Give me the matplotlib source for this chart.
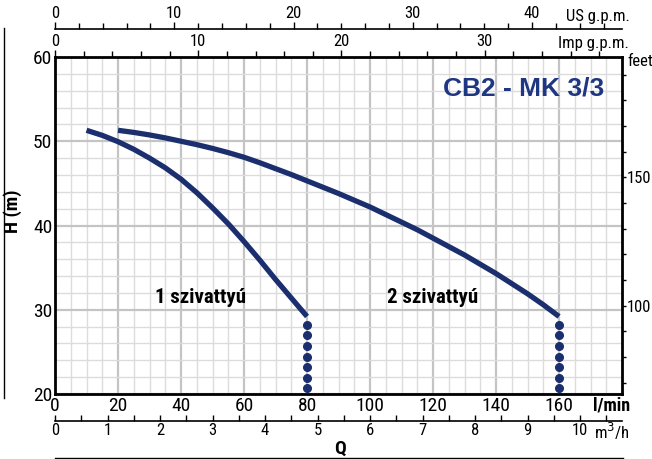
import matplotlib
matplotlib.use('Agg')
import matplotlib.pyplot as plt
from matplotlib import font_manager as fm
from matplotlib.lines import Line2D

# pick a narrow sans if one is installed
names = {f.name for f in fm.fontManager.ttflist}
stretch = 'normal'
narrow = 'Liberation Sans'
for cand in ['Liberation Sans Narrow', 'Roboto Condensed', 'Open Sans Condensed',
             'Noto Sans Condensed', 'DejaVu Sans Condensed']:
    if cand in names:
        narrow = cand
        break
else:
    cond = [f.name for f in fm.fontManager.ttflist
            if str(f.stretch) in ('condensed', 'semi-condensed', '75', '87.5')]
    if cond:
        narrow = cond[0]
        stretch = 'condensed'

plt.rcParams['font.family'] = [narrow, 'DejaVu Sans']
plt.rcParams['font.stretch'] = stretch

# 1 szivattyu (l/min, m)
q1 = [10, 15, 20, 25, 30, 35, 40, 45, 50, 55, 60, 65, 70, 75, 80]
h1 = [51.3, 50.7, 49.95, 49.05, 48.0, 46.85, 45.5, 43.9, 42.1, 40.2, 38.1, 35.9, 33.6, 31.4, 29.2]
# 2 szivattyu
q2 = [20, 25, 30, 35, 40, 45, 50, 55, 60, 65, 70, 75, 80, 85, 90, 95, 100,
      105, 110, 115, 120, 125, 130, 135, 140, 145, 150, 155, 160]
h2 = [51.3, 51.05, 50.75, 50.4, 50.0, 49.6, 49.15, 48.65, 48.1, 47.45, 46.75, 46.05, 45.3,
      44.55, 43.8, 43.0, 42.2, 41.3, 40.4, 39.5, 38.5, 37.5, 36.5, 35.4, 34.3, 33.1,
      31.9, 30.6, 29.2]
# dotted continuation below the curve ends
dots_h = [28.2, 26.95, 25.7, 24.45, 23.2, 21.95, 20.7]
dots_q = [80, 160]

navy = '#1b2f6f'

fig = plt.figure(figsize=(6.52, 4.59), dpi=100)
ax = fig.add_axes([0.0844, 0.1416, 0.8696, 0.7342])
ax.set_xlim(0, 180)
ax.set_ylim(20, 60)

ax.set_xticks(range(0, 161, 20))
ax.set_xticks(range(0, 181, 5), minor=True)
ax.set_yticks(range(20, 61, 10))
ax.set_yticks(range(20, 61, 2), minor=True)
ax.grid(which='minor', color='#dcdcdc', lw=1.0, zorder=0)
ax.grid(which='major', color='#c4c4c4', lw=1.6, zorder=0)
ax.set_axisbelow(True)
ax.tick_params(which='both', length=0, labelsize=14, pad=2)
ax.tick_params(top=False, right=False)
for s in ax.spines.values():
    s.set_linewidth(2.0)

ax.plot(q1, h1, color=navy, lw=3.8, solid_capstyle='butt', solid_joinstyle='round', zorder=3)
ax.plot(q2, h2, color=navy, lw=3.8, solid_capstyle='butt', solid_joinstyle='round', zorder=3)
for q in dots_q:
    ax.plot([q] * len(dots_h), dots_h, 'o', color=navy, ms=5.5, zorder=3)

ax.text(46.3, 31.4, '1 szivattyú', fontsize=15, fontweight='bold', ha='center', va='center')
ax.text(119.7, 31.4, '2 szivattyú', fontsize=15, fontweight='bold', ha='center', va='center')
ax.text(0.968, 0.906, 'CB2 - MK 3/3', transform=ax.transAxes, fontsize=19,
        fontweight='bold', color='#1f3682', ha='right', va='center',
        family=['Liberation Sans', 'DejaVu Sans'], stretch='normal')

# top: Imp g.p.m.
imp = ax.secondary_xaxis('top', functions=(lambda x: x / 4.54609, lambda x: x * 4.54609))
imp.set_xticks(range(0, 40, 10))
imp.set_xticks(range(0, 40, 2), minor=True)
imp.tick_params(which='major', length=5, width=1, labelsize=12, pad=1)
imp.tick_params(which='minor', length=4, width=1)
imp.spines['top'].set_visible(False)

# top: US g.p.m.
us = ax.secondary_xaxis(1.083, functions=(lambda x: x / 3.78541, lambda x: x * 3.78541))
us.set_xticks(range(0, 50, 10))
us.set_xticks(range(0, 48, 2), minor=True)
us.tick_params(which='major', length=5, width=1, labelsize=12, pad=1)
us.tick_params(which='minor', length=4, width=1)
us.spines['top'].set_linewidth(1.2)

# bottom: m3/h
m3 = ax.secondary_xaxis(-0.079, functions=(lambda x: x * 0.06, lambda x: x / 0.06))
m3.set_xticks(range(0, 11))
m3.set_xticks([i / 2 for i in range(0, 22)], minor=True)
m3.tick_params(which='both', direction='in', length=4, width=1, labelsize=12, pad=2)
m3.spines['bottom'].set_linewidth(1.2)

# right: feet
ft = ax.secondary_yaxis('right', functions=(lambda y: y * 3.28084, lambda y: y / 3.28084))
ft.set_yticks([100, 150])
ft.set_yticks(range(70, 200, 10), minor=True)
ft.tick_params(which='both', length=3, width=1, labelsize=12, pad=0.5)

fig.text(0.966, 0.965, 'US g.p.m.', fontsize=12, ha='right', va='center')
fig.text(0.964, 0.906, 'Imp g.p.m.', fontsize=12, ha='right', va='center')
fig.text(0.962, 0.865, 'feet', fontsize=12, ha='left', va='center')
fig.text(0.966, 0.116, 'l/min', fontsize=13, fontweight='bold', ha='right', va='center')
fig.text(0.966, 0.059, 'm$^3$/h', fontsize=12, ha='right', va='center')
fig.text(0.521, 0.022, 'Q', fontsize=14, fontweight='bold', ha='center', va='center')
fig.text(0.019, 0.54, 'H (m)', fontsize=14, fontweight='bold', rotation=90,
         ha='center', va='center')

fig.add_artist(Line2D([0.0844, 0.955], [0.003, 0.003], color='black', lw=1.0))
fig.add_artist(Line2D([0.006, 0.006], [0.133, 0.939], color='black', lw=1.0))

fig.savefig('out.png', dpi=100)
